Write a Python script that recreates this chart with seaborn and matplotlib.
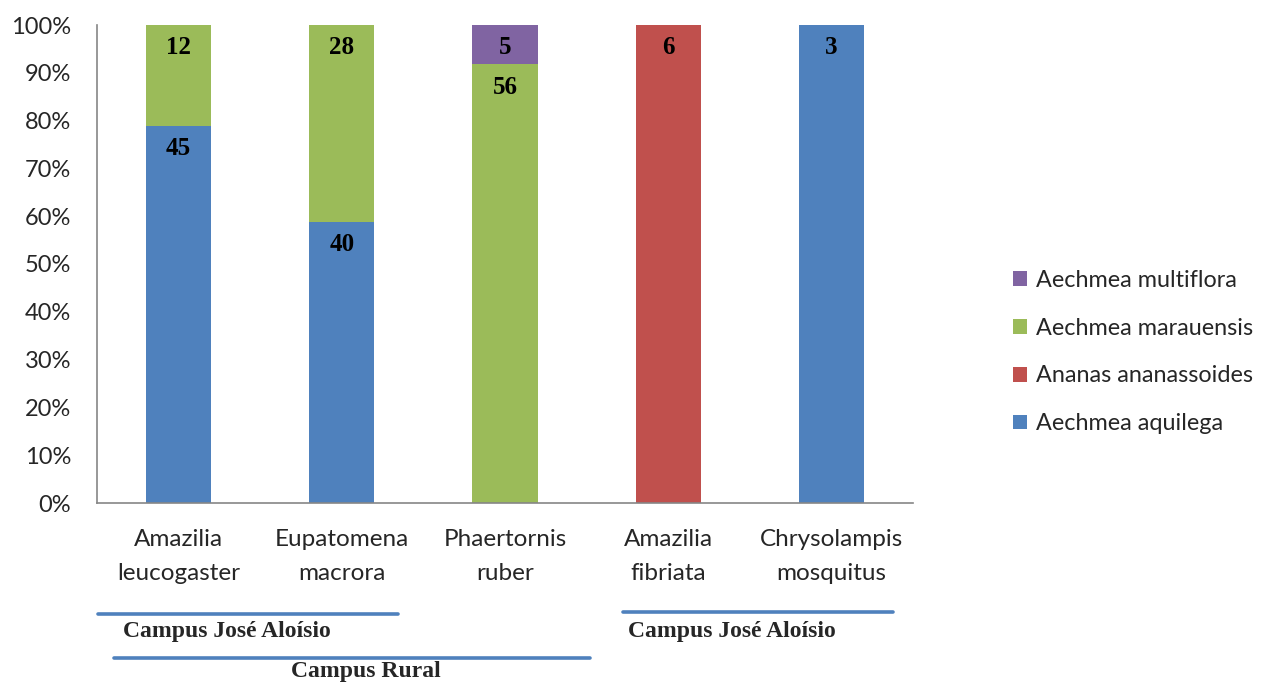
import numpy as np
import pandas as pd
import matplotlib
matplotlib.use("Agg")
import matplotlib.pyplot as plt
import seaborn as sns
from matplotlib.ticker import PercentFormatter, FixedLocator, MultipleLocator
from matplotlib.patches import Patch
from matplotlib.lines import Line2D

birds = ["Amazilia\nleucogaster", "Eupatomena\nmacrora", "Phaertornis\nruber",
         "Amazilia\nfibriata", "Chrysolampis\nmosquitus"]
plants = ["Aechmea multiflora", "Aechmea marauensis", "Ananas ananassoides", "Aechmea aquilega"]
multiflora = [0, 0, 5, 0, 0]
marauensis = [12, 28, 56, 0, 0]
ananas = [0, 0, 0, 6, 0]
aquilega = [45, 40, 0, 0, 3]
colors = ["#8064A2", "#9BBB59", "#C0504D", "#4F81BD"]
group_labels = ["Campus José Aloísio", "Campus Rural", "Campus José Aloísio"]

counts = {"Aechmea multiflora": multiflora, "Aechmea marauensis": marauensis,
          "Ananas ananassoides": ananas, "Aechmea aquilega": aquilega}
rows = []
for p in plants:
    for i, b in enumerate(birds):
        rows.append({"bird": i, "plant": p, "n": counts[p][i]})
df = pd.DataFrame(rows)

sns.set_theme(style="white")
plt.rcParams['font.family'] = ['Lato', 'DejaVu Sans']

fig = plt.figure(figsize=(12.69, 6.84), dpi=100)
ax = fig.add_axes([97/1269, 1-503/684, (913-97)/1269, (503-25)/684])

sns.histplot(data=df, x="bird", hue="plant", weights="n", hue_order=plants,
             palette=colors, multiple="fill", discrete=True, shrink=0.4,
             linewidth=0, alpha=1, legend=False, ax=ax)

ax.set_xlim(-0.5, len(birds) - 0.5)
ax.set_ylim(0, 1)
ax.set_xlabel("")
ax.set_ylabel("")
ax.yaxis.set_major_locator(MultipleLocator(0.1))
ax.yaxis.set_major_formatter(PercentFormatter(1.0, decimals=0))
ax.set_xticks(range(len(birds)))
ax.set_xticklabels(birds, fontsize=17.5, linespacing=1.75)
ax.xaxis.set_minor_locator(FixedLocator(np.arange(-0.5, len(birds), 1.0)))
ax.tick_params(axis="x", which="major", length=0, pad=19)
ax.tick_params(axis="x", which="minor", length=7, width=1.2, color="#868686", direction="out")
ax.tick_params(axis="y", which="major", length=6.5, width=1.2, color="#868686", direction="out",
               labelsize=17, pad=12)
for s in ["top", "right"]:
    ax.spines[s].set_visible(False)
for s in ["left", "bottom"]:
    ax.spines[s].set_color("#868686")
    ax.spines[s].set_linewidth(1.2)

# data labels near the top of each segment
stack_order = ["Aechmea aquilega", "Ananas ananassoides", "Aechmea marauensis", "Aechmea multiflora"]
totals = np.array([sum(counts[p][i] for p in plants) for i in range(len(birds))], dtype=float)
for i in range(len(birds)):
    cum = 0.0
    for p in stack_order:
        v = counts[p][i]
        if v == 0:
            continue
        cum += v / totals[i]
        ax.annotate(str(v), xy=(i, cum), xytext=(0, -23), textcoords="offset pixels",
                    ha="center", va="center", fontsize=18, fontweight="bold",
                    family="Liberation Serif", color="black")

handles = [Patch(facecolor=c, edgecolor="none") for c in colors]
fig.legend(handles, plants, loc="center left", bbox_to_anchor=(992/1269, 1-352/684),
           frameon=False, fontsize=16.8, handlelength=0.6, handleheight=0.6,
           handletextpad=0.4, labelspacing=1.15)

def fx(x):
    return x / 1269
def fy(y):
    return 1 - y / 684

line_color = "#4F81BD"
for (x0, x1, y) in [(98, 398, 614), (114, 590, 658), (623, 893, 612)]:
    fig.add_artist(Line2D([fx(x0), fx(x1)], [fy(y), fy(y)], color=line_color, lw=2.6))
for (x, y, t) in [(123, 632, group_labels[0]), (291, 671, group_labels[1]), (628, 632, group_labels[2])]:
    fig.text(fx(x), fy(y), t, ha="left", va="center", fontsize=17, fontweight="bold",
             family="Liberation Serif")

fig.savefig("out.png", dpi=100)
